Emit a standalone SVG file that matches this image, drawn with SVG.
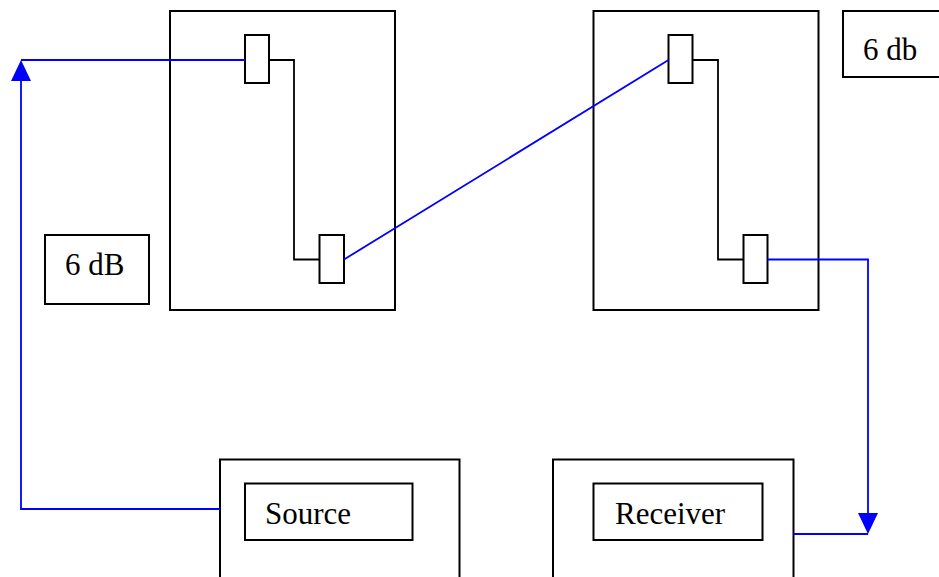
<svg xmlns="http://www.w3.org/2000/svg" width="939" height="577" viewBox="0 0 939 577">
<style>
.box{fill:#fff;stroke:#000;stroke-width:2}
.wire{fill:none;stroke:#000;stroke-width:1.8}
.blue{fill:none;stroke:#0000ff;stroke-width:1.8}
.lbl{font-family:"Liberation Serif","Times New Roman",serif;font-size:31px;fill:#000}
</style>
<rect width="939" height="577" fill="#fff"/>
<g id="attenuator1">
<rect class="box" x="170" y="11" width="225" height="299"/>
<polyline class="wire" points="269,60 294,60 294,259.5 319,259.5"/>
<rect class="box" x="245" y="35" width="24" height="48"/>
<rect class="box" x="319.5" y="235" width="24.5" height="48"/>
</g>
<g id="attenuator2">
<rect class="box" x="593.5" y="11" width="225" height="299"/>
<polyline class="wire" points="692.5,60 718,60 718,259.5 743,259.5"/>
<rect class="box" x="668.5" y="35" width="24" height="48"/>
<rect class="box" x="743.5" y="235" width="24" height="48"/>
</g>
<g id="label-6dB">
<rect class="box" x="45" y="235" width="104" height="69"/>
<text class="lbl" x="65" y="275">6 dB</text>
</g>
<g id="label-6db">
<rect class="box" x="843" y="11" width="110" height="66"/>
<text class="lbl" x="863" y="60">6 db</text>
</g>
<g id="source">
<rect class="box" x="220" y="459.5" width="239.5" height="130"/>
<rect class="box" x="245" y="483.5" width="167.5" height="56.5"/>
<text class="lbl" x="265" y="524">Source</text>
</g>
<g id="receiver">
<rect class="box" x="553" y="459.5" width="240.5" height="130"/>
<rect class="box" x="593.5" y="483.5" width="169" height="56.5"/>
<text class="lbl" x="615" y="524">Receiver</text>
</g>
<g id="connectors">
<polyline class="blue" points="220,509 21,509 21,81"/>
<path d="M21,60 L11,81 L31,81 Z" fill="#0000ff"/>
<line class="blue" x1="21" y1="60" x2="245" y2="60"/>
<line class="blue" x1="344" y1="259.5" x2="668.5" y2="60"/>
<polyline class="blue" points="767.5,259.5 868,259.5 868,513"/>
<path d="M868,534 L858,513 L878,513 Z" fill="#0000ff"/>
<line class="blue" x1="793.5" y1="534" x2="868" y2="534"/>
</g>
</svg>
